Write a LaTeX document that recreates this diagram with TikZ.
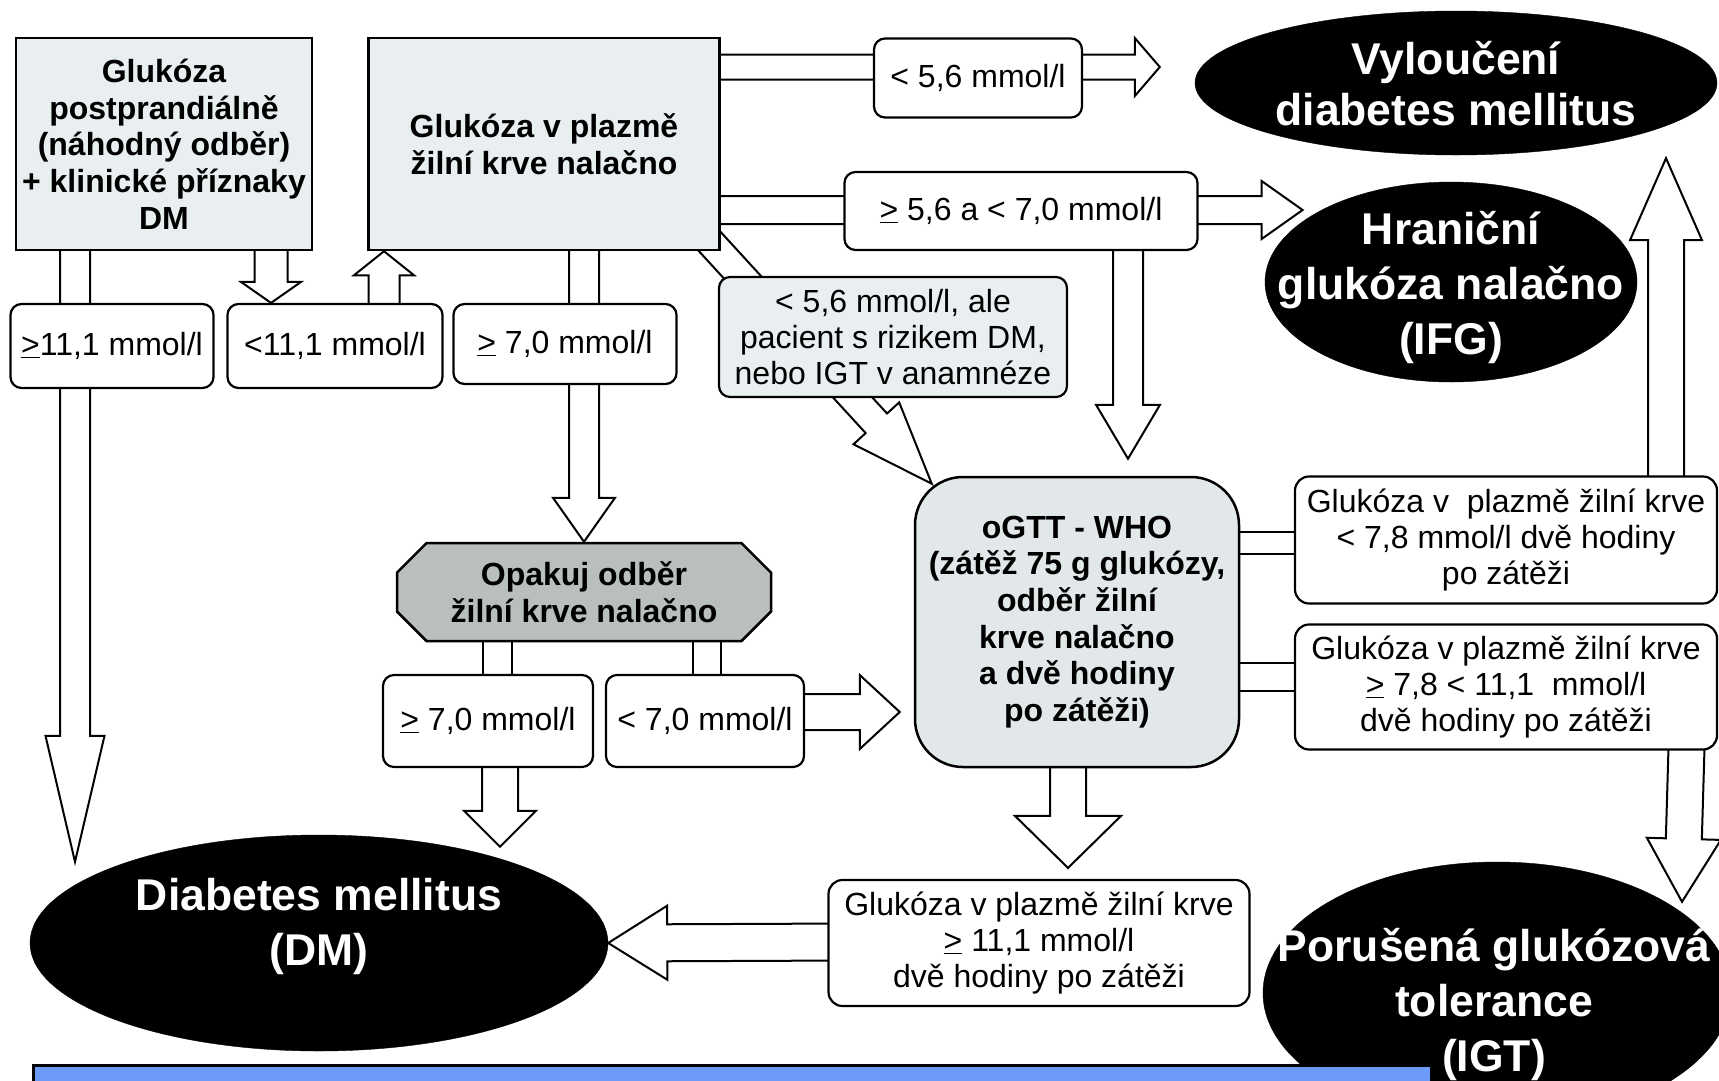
\documentclass[tikz,border=0pt]{standalone}
\usepackage{fontspec}
\setmainfont{Liberation Sans}
\usetikzlibrary{calc,shapes.geometric,shapes.misc,backgrounds}

\definecolor{boxfill}{RGB}{233,238,240}
\definecolor{gtfill}{RGB}{226,231,233}
\definecolor{repfill}{RGB}{184,191,190}
\definecolor{barblue}{RGB}{110,155,250}

% tail, tip, shaft half width, head half width, head length
\newcommand{\fatarrow}[5]{%
  \path (#1) coordinate (fa-t) (#2) coordinate (fa-h) ($(fa-h)!#5pt!(fa-t)$) coordinate (fa-b);
  \draw[fat] ($(fa-t)!#3pt!90:(fa-h)$) -- ($(fa-b)!#3pt!90:(fa-h)$) -- ($(fa-b)!#4pt!90:(fa-h)$) -- (fa-h)
    -- ($(fa-b)!#4pt!-90:(fa-h)$) -- ($(fa-b)!#3pt!-90:(fa-h)$) -- ($(fa-t)!#3pt!-90:(fa-h)$) -- cycle;}
% from, to, half width (no head)
\newcommand{\fatshaft}[3]{%
  \path (#1) coordinate (fs-a) (#2) coordinate (fs-b);
  \draw[fat] ($(fs-a)!#3pt!90:(fs-b)$) -- ($(fs-b)!#3pt!-90:(fs-a)$) -- ($(fs-b)!#3pt!90:(fs-a)$) -- ($(fs-a)!#3pt!-90:(fs-b)$) -- cycle;}

\begin{document}
\begin{tikzpicture}[x=1pt,y=-1pt,
  box/.style={draw,line width=2.5pt,fill=boxfill,inner sep=0pt,align=center,font=\fontsize{32}{36.7}\selectfont\bfseries},
  lbl/.style={draw,line width=2.2pt,rounded corners=11pt,fill=white,inner sep=0pt,align=center,font=\fontsize{32}{35.6}\selectfont},
  blob/.style={ellipse,draw=black,fill=black,inner sep=0pt},
  blobtext/.style={text=white,align=center,inner sep=0pt,font=\fontsize{44.5}{55}\selectfont\bfseries},
  fat/.style={draw=black,fill=white,line width=2pt,line join=miter}]

\useasboundingbox (0,0) rectangle (1719,1080);

% vstupni vysetreni
\node[box,minimum width=296pt,minimum height=212pt] (gpost) at (164,144) {Glukóza\\postprandiálně\\(náhodný odběr)\\+ klinické příznaky\\DM};
\node[box,minimum width=351pt,minimum height=212pt] (gnal) at (544,144) {Glukóza v plazmě\\žilní krve nalačno};

% hodnoty nalacno
\node[lbl,minimum width=208pt,minimum height=79pt] (l56) at (978,78) {< 5,6 mmol/l};
\node[lbl,minimum width=353pt,minimum height=78pt] (l5670) at (1021,211) {\underline{>} 5,6 a < 7,0 mmol/l};
\node[lbl,minimum width=203pt,minimum height=84pt] (l111a) at (112,346) {\underline{>}11,1 mmol/l};
\node[lbl,minimum width=215pt,minimum height=84pt] (l111b) at (335,346) {<11,1 mmol/l};
\node[lbl,minimum width=223pt,minimum height=80pt] (l70a) at (565,344) {\underline{>} 7,0 mmol/l};
\node[lbl,fill=boxfill,minimum width=348pt,minimum height=120pt] (lrisk) at (893,337) {< 5,6 mmol/l, ale\\pacient s rizikem DM,\\nebo IGT v anamnéze};

% opakovani
\node[chamfered rectangle,chamfered rectangle xsep=26pt,draw,line width=2.5pt,fill=repfill,inner sep=0pt,
  minimum width=374pt,minimum height=98pt,align=center,font=\fontsize{32}{36.7}\selectfont\bfseries] (rep) at (584,592) {Opakuj odběr\\žilní krve nalačno};
\node[lbl,minimum width=210pt,minimum height=92pt] (l70b) at (488,721) {\underline{>} 7,0 mmol/l};
\node[lbl,minimum width=198pt,minimum height=92pt] (l70c) at (705,721) {< 7,0 mmol/l};

% oGTT
\node[box,fill=gtfill,rounded corners=48pt,minimum width=324pt,minimum height=290pt] (ogtt) at (1077,622) {oGTT - WHO\\(zátěž 75 g glukózy,\\odběr žilní\\krve nalačno\\a dvě hodiny\\po zátěži)};
\node[lbl,rounded corners=14pt,minimum width=422pt,minimum height=127pt] (rl1) at (1506,540) {Glukóza v\ \ plazmě žilní krve\\< 7,8 mmol/l dvě hodiny\\po zátěži};
\node[lbl,rounded corners=14pt,minimum width=422pt,minimum height=125pt] (rl2) at (1506,687) {Glukóza v plazmě žilní krve\\\underline{>} 7,8 < 11,1\ \ mmol/l\\dvě hodiny po zátěži};
\node[lbl,rounded corners=14pt,minimum width=421pt,minimum height=126pt] (bl) at (1039,943) {Glukóza v plazmě žilní krve\\\underline{>} 11,1 mmol/l\\dvě hodiny po zátěži};

% zavery
\node[blob,minimum width=522pt,minimum height=144pt] (vyl) at (1456,83) {};
\node[blobtext,font=\fontsize{44.5}{51}\selectfont\bfseries] (vylt) at (1456,84) {Vyloučení\\diabetes mellitus};
\node[blob,minimum width=372pt,minimum height=200pt] (ifg) at (1451,282) {};
\node[blobtext] (ifgt) at (1451,287) {Hraniční\\glukóza nalačno\\(IFG)};
\node[blob,minimum width=578pt,minimum height=216pt] (dm) at (319,943) {};
\node[blobtext] (dmt) at (319,926) {Diabetes mellitus\\(DM)};
\node[blob,minimum width=468pt,minimum height=262pt] (igt) at (1497,993) {};
\node[blobtext] (igtt) at (1494,1004) {Porušená glukózová\\tolerance\\(IGT)};

\draw[line width=3pt,fill=barblue] (33,1065) rectangle (1431,1100);

\begin{scope}[on background layer]
\fatarrow{$(gpost.south)+(-89,-40)$}{$(gpost.south |- dm.north)+(-89,27)$}{15}{29.5}{126}
\fatarrow{$(gpost.south)+(107,-30)$}{$(l111b.north)+(-64,0)$}{16.5}{30}{21}
\fatarrow{$(l111b.north)+(49,20)$}{$(gnal.south)+(-160,0)$}{15.5}{30}{24}
\fatarrow{$(gnal.south -| rep.north)+(0,-15)$}{rep.north}{15}{31}{44}
\fatarrow{$(gnal.east |- l56.center)+(-20,-11)$}{$(vyl.west)+(-35,-16)$}{12.5}{29}{25}
\fatarrow{$(gnal.east |- l5670.center)+(-20,-1)$}{$(l5670.east)+(104,-1)$}{14}{29}{41}
\fatarrow{$(gnal.south east)+(-14,-13)$}{$(ogtt.north west)+(18,8)$}{14.5}{31}{82}
\fatarrow{$(l5670.south)+(107,-10)$}{$(ogtt.north)+(51,-17)$}{15}{32}{54}
\fatshaft{$(ogtt.east)+(-20,-79)$}{$(rl1.west)+(20,3)$}{11}
\fatshaft{$(ogtt.east)+(-20,55)$}{$(rl2.west)+(20,-10)$}{14}
\fatarrow{$(rl1.north)+(160,20)$}{$(vyl.south)+(210,3)$}{18}{36}{82}
\fatarrow{$(rl2.south)+(181,-20)$}{$(igt.north)+(185,40)$}{18}{37}{63}
\fatshaft{$(rep.south)+(-87,-10)$}{$(l70b.north)+(9,10)$}{14.5}
\fatshaft{$(rep.south)+(123,-10)$}{$(l70c.north)+(2,10)$}{14}
\fatarrow{$(l70b.south)+(12,-10)$}{$(dm.north)+(181,12)$}{18}{36}{36}
\fatarrow{$(l70c.center)+(60,-9)$}{$(ogtt.west |- l70c.center)+(-14,-9)$}{18}{37}{40}
\fatarrow{$(ogtt.south)+(-9,-10)$}{$(bl.north)+(29,-11)$}{18}{53}{52}
\fatarrow{$(bl.west)+(20,-1)$}{dm.east}{18.5}{37}{59}
\end{scope}
\end{tikzpicture}
\end{document}
